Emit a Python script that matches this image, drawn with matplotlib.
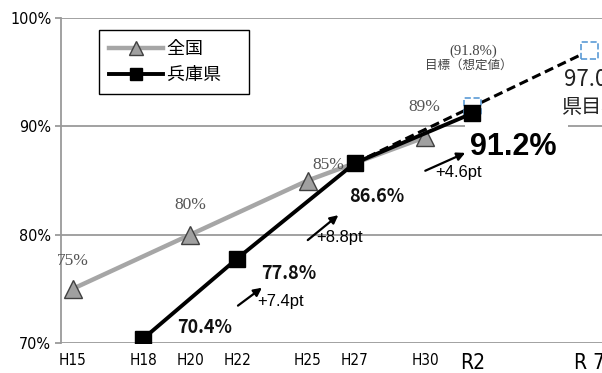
import numpy as np
import matplotlib
matplotlib.use('Agg')
import matplotlib.pyplot as plt
from matplotlib.patches import Rectangle

plt.rcParams['font.family'] = ['Noto Sans CJK JP', 'DejaVu Sans']

# survey years (western) and their era labels
tick_years = [2003, 2006, 2008, 2010, 2013, 2015, 2018, 2020, 2025]
tick_labels = ["H15", "H18", "H20", "H22", "H25", "H27", "H30", "R2", "R 7"]

# national rate
zenkoku_years = [2003, 2008, 2013, 2018]
zenkoku_vals = [75, 80, 85, 89]
zenkoku_text = ["75%", "80%", "85%", "89%"]

# Hyogo prefecture rate
hyogo_years = [2006, 2010, 2015, 2020]
hyogo_vals = [70.4, 77.8, 86.6, 91.2]

# target path (assumed value for R2, prefecture target for R7)
target_years = [2015, 2020, 2025]
target_vals = [86.6, 91.8, 97.0]

# point gains between surveys
gain_text = ["+7.4pt", "+8.8pt", "+4.6pt"]

fig = plt.figure(figsize=(6.02, 3.73), dpi=100)
ax = fig.add_axes([61 / 602, 1 - 343 / 373, 541 / 602, 325 / 373])
ax.set_xlim(2002.5, 2025.52)
ax.set_ylim(70, 100)

grid_c = "#9a9a9a"
narrow = dict(family=['DejaVu Sans'], stretch='condensed')
for sp in ["top", "right", "bottom"]:
    ax.spines[sp].set_visible(False)
ax.spines["left"].set_color(grid_c)
ax.spines["left"].set_linewidth(1.3)
ax.set_yticks([70, 80, 90, 100])
ax.set_yticklabels(["70%", "80%", "90%", "100%"], fontsize=11.5, **narrow)
ax.tick_params(axis="y", length=4, color=grid_c, width=1.3, pad=3)
ax.yaxis.grid(True, color=grid_c, linewidth=1.3, zorder=0)
ax.set_axisbelow(True)

ax.set_xticks(tick_years)
ax.set_xticklabels(tick_labels, fontsize=11, **narrow)
ax.tick_params(axis="x", length=0, pad=7)
for lab in ax.get_xticklabels():
    if lab.get_text() in ("R2", "R 7"):
        lab.set_fontsize(15)

# white gap in the 90% grid line behind the target label
ax.add_patch(Rectangle((2019.7, 89.7), 4.37, 0.6, facecolor="white",
                       edgecolor="none", zorder=1))

ax.plot(zenkoku_years, zenkoku_vals, color="#a6a6a6", lw=3.2, marker="^",
        markersize=13, markerfacecolor="#a0a0a0", markeredgecolor="#404040",
        markeredgewidth=1.0, label="全国", zorder=3)

ax.plot(target_years, target_vals, color="black", lw=2.2, ls=(0, (3, 1.6)), zorder=4)
ax.scatter(target_years[1:], target_vals[1:], s=150, marker="s", facecolors="white",
           edgecolors="#5b9bd5", linestyles="--", linewidths=1.2, zorder=4)

ax.plot(hyogo_years, hyogo_vals, color="black", lw=2.8, marker="s",
        markersize=11, label="兵庫県", zorder=5)

# legend box a little wider on the right than its labels
handles, labels = ax.get_legend_handles_labels()
leg = ax.legend(handles, [l + "\u3000" for l in labels], loc="upper left",
                bbox_to_anchor=(0.07, 0.963), borderaxespad=0,
                fancybox=False, edgecolor="black", framealpha=1, fontsize=13,
                handlelength=3.0, labelspacing=0.45, borderpad=0.55, handletextpad=0.2,
                markerscale=0.75)
leg.get_frame().set_linewidth(1.0)

# national value labels
zk_pos = [(2003, 77.55), (2008, 82.7), (2013.86, 86.4), (2017.95, 91.75)]
for (x, y), t in zip(zk_pos, zenkoku_text):
    ax.text(x, y, t, ha="center", va="center", fontsize=12.5, color="#555555",
            family=['Liberation Serif', 'DejaVu Serif'], zorder=6)

# Hyogo value labels
hy_pos = [(2008.63, 71.4), (2012.2, 76.46), (2015.95, 83.5)]
for (x, y), v in zip(hy_pos, hyogo_vals[:3]):
    ax.text(x, y, f"{v:.1f}%", ha="center", va="center", fontsize=13,
            fontweight="bold", color="#111111", zorder=6)
ax.text(2021.75, 88.1, f"{hyogo_vals[3]:.1f}%", ha="center", va="center", fontsize=22,
        fontweight="bold", family=['Liberation Sans', 'DejaVu Sans'], zorder=6)

# gain arrows
arrows = [((2010.03, 73.45), (2011.05, 75.1)),
          ((2013.0, 79.5), (2014.3, 81.8)),
          ((2018.0, 85.9), (2019.7, 87.55))]
gain_pos = [(2011.86, 73.8), (2014.37, 79.7), (2019.4, 85.7)]
for (p0, p1), (x, y), t in zip(arrows, gain_pos, gain_text):
    ax.annotate("", xy=p1, xytext=p0, zorder=6,
                arrowprops=dict(arrowstyle="-|>", color="black", lw=1.6,
                                mutation_scale=12, shrinkA=0, shrinkB=0))
    ax.text(x, y, t, ha="center", va="center", fontsize=12,
            family=['Liberation Sans', 'DejaVu Sans'], zorder=6)

# targets
ax.text(2020.05, 96.9, f"({target_vals[1]:.1f}%)", ha="center", va="center",
        fontsize=10.5, color="#444444", family=['Liberation Serif', 'DejaVu Serif'])
ax.text(2019.85, 95.67, "目標（想定値）", ha="center", va="center", fontsize=9,
        color="#444444")
ax.text(2023.9, 94.3, f"{target_vals[2]:.1f}%", ha="left", va="center", fontsize=16,
        color="#222222", clip_on=False)
ax.text(2023.78, 91.7, "県目標", ha="left", va="center", fontsize=14.5,
        color="#222222", clip_on=False)

fig.savefig("out.png", dpi=100)
